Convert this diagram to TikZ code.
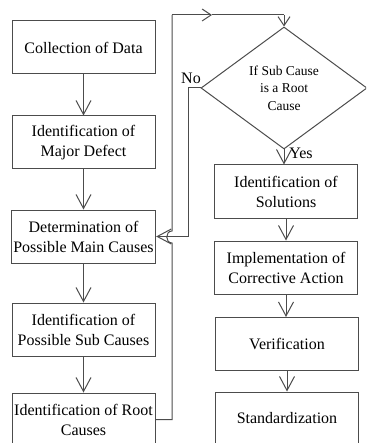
\documentclass[tikz,border=0pt]{standalone}
\usepackage{fontspec}
\setmainfont{Liberation Serif}
\usetikzlibrary{arrows.meta,shapes.geometric}
\tikzset{stepbox/.style={draw=black!70, line width=1pt, minimum width=143pt,
   minimum height=53pt, align=center, inner sep=2pt,
   font=\fontsize{16}{20}\selectfont},
 check/.style={draw=black!70, line width=1pt, shape=diamond, minimum width=166pt,
   minimum height=122pt, align=center, inner sep=0pt,
   font=\fontsize{13.5}{17.5}\selectfont},
 label/.style={font=\fontsize{16}{20}\selectfont, inner sep=0pt},
 line/.style={draw=black!70, line width=1pt},
 flow/.style={line, -{Straight Barb[length=14pt,width=15pt]}},
 smallflow/.style={line, -{Straight Barb[length=9pt,width=12pt]}},
 }

\begin{document}
\begin{tikzpicture}[x=1pt,y=-1pt]
        \useasboundingbox (0,0) rectangle (366,443);
        \clip (0,0) rectangle (366,443);
        % left column
        \node[stepbox] (data) at (83.5,47.5) {Collection of Data};
        \node[stepbox] (defect) at (83.5,142.5) {Identification of\\Major Defect};
        \node[stepbox] (main) at (83.5,236.5) {Determination of\\Possible Main Causes};
        \node[stepbox] (sub) at (83.5,329.5) {Identification of\\Possible Sub Causes};
        \node[stepbox] (root) at (83.5,419.5) {Identification of Root\\Causes};
        % right column
        \node[check] (ifroot) at (284,88) {If Sub Cause\\is a Root\\Cause};
        \node[stepbox] (sol) at (286,191.5) {Identification of\\Solutions};
        \node[stepbox] (impl) at (286,267.5) {Implementation of\\Corrective Action};
        \node[stepbox] (verif) at (287,344) {Verification};
        \node[stepbox] (std) at (287,418.5) {Standardization};
        \node[label] (no) at (191,78) {No};
        \node[label] (yes) at (301,153) {Yes};
        % flow
        \draw[flow] (data) -- (defect);
        \draw[flow] (defect) -- (main);
        \draw[flow] (main) -- (sub);
        \draw[flow] (sub) -- (root);
        \draw[flow] (ifroot.south) -- (ifroot.south |- sol.north);
        \draw[flow] (sol.south) -- (sol.south |- impl.north);
        \draw[flow] (impl.south) -- (impl.south |- verif.north);
        \draw[flow] (verif) -- (std);
        % loop back
        \coordinate (loopx) at (172,15);
        \coordinate (hoplow) at (172,243);
        \coordinate (hophigh) at (172,231);
        \coordinate (looptip) at (212,15);
        \draw[line] (root.east) -- (root.east -| loopx) -- (hoplow)
            .. controls (165,243) and (165,231) .. (hophigh) -- (loopx);
        \draw[smallflow] (loopx) -- (looptip);
        \draw[line] (looptip) -- (loopx -| ifroot.north);
        \draw[smallflow] (loopx -| ifroot.north) -- (ifroot.north);
        \draw[flow] (ifroot.west) -- ++(-12,0) |- (main.east);
    \end{tikzpicture}
\end{document}
